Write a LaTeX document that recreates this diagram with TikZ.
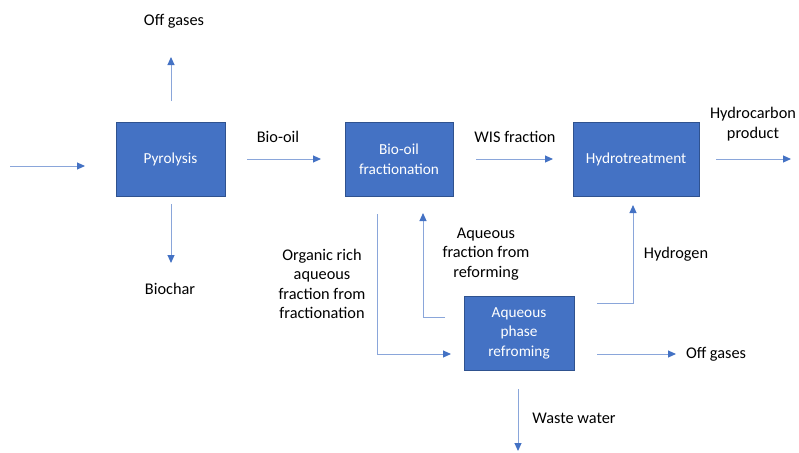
\documentclass[tikz,border=0pt]{standalone}
\usepackage{fontspec}
\setmainfont{Carlito}
\usetikzlibrary{arrows.meta}
\definecolor{boxblue}{HTML}{4472C4}
\definecolor{boxedge}{HTML}{2F528F}
\definecolor{lineblue}{HTML}{8AA6DA}
\definecolor{tipblue}{HTML}{4472C4}
\tikzset{
  procbox/.style={rectangle, fill=boxblue, draw=boxedge, line width=0.8pt, text=white, align=center,
    font=\fontsize{15.3}{19.5}\selectfont, minimum height=74pt, inner sep=0pt},
  lbl/.style={text=black, align=center, font=\fontsize{16.3}{19.5}\selectfont, inner sep=0pt},
  flow/.style={draw=lineblue, line width=1pt, -{Triangle[length=8pt,width=7pt,color=tipblue]}},
}
\begin{document}
\begin{tikzpicture}[x=1pt,y=-1pt]
\useasboundingbox (0,0) rectangle (799,452);
% boxes
\node[procbox, minimum width=109pt] (pyro) at (170.5,159) {Pyrolysis};
\node[procbox, minimum width=108pt] (frac) at (399,159) {Bio-oil\\fractionation};
\node[procbox, minimum width=126pt] (hydro) at (636,159) {Hydrotreatment};
\node[procbox, minimum width=110pt] (apr) at (519,333) {Aqueous\\phase\\refroming};
% labels
\node[lbl] (offg1) at (174,21) {Off gases};
\node[lbl] (biooil) at (278,137) {Bio-oil};
\node[lbl] (biochar) at (170,289) {Biochar};
\node[lbl] (wis) at (515,137) {WIS fraction};
\node[lbl] (hcp) at (753,124) {Hydrocarbon\\product};
\node[lbl] (org) at (322,284) {Organic rich\\aqueous\\fraction from\\fractionation};
\node[lbl] (aqf) at (486,254) {Aqueous\\fraction from\\reforming};
\node[lbl] (h2) at (676,254) {Hydrogen};
\node[lbl] (offg2) at (716,354) {Off gases};
\node[lbl] (ww) at (574,418) {Waste water};
% free-end coordinates
\coordinate (inS) at (10,166);
\coordinate (inE) at (85,166);
\coordinate (ogS) at (171,101);
\coordinate (ogE) at (171,57);
\coordinate (bcS) at (171,204);
\coordinate (bcE) at (171,263);
\coordinate (boS) at (247,159);
\coordinate (boE) at (321,159);
\coordinate (wiS) at (476,159);
\coordinate (wiE) at (553,159);
\coordinate (hcS) at (716,159);
\coordinate (hcE) at (791,159);
\coordinate (orS) at (377,214);
\coordinate (orC) at (377,354);
\coordinate (orE) at (451,354);
\coordinate (aqS) at (445,317);
\coordinate (aqC) at (423,317);
\coordinate (aqE) at (423,213);
\coordinate (hyS) at (597,303);
\coordinate (hyC) at (633,303);
\coordinate (hyE) at (633,205);
\coordinate (o2S) at (597,354);
\coordinate (o2E) at (676,354);
\coordinate (wwS) at (518,389);
\coordinate (wwE) at (518,451);
% connectors
\draw[flow] (inS) -- (inE);
\draw[flow] (ogS) -- (ogE);
\draw[flow] (bcS) -- (bcE);
\draw[flow] (boS) -- (boE);
\draw[flow] (wiS) -- (wiE);
\draw[flow] (hcS) -- (hcE);
\draw[flow] (orS) -- (orC) -- (orE);
\draw[flow] (aqS) -- (aqC) -- (aqE);
\draw[flow] (hyS) -- (hyC) -- (hyE);
\draw[flow] (o2S) -- (o2E);
\draw[flow] (wwS) -- (wwE);
\end{tikzpicture}
\end{document}
